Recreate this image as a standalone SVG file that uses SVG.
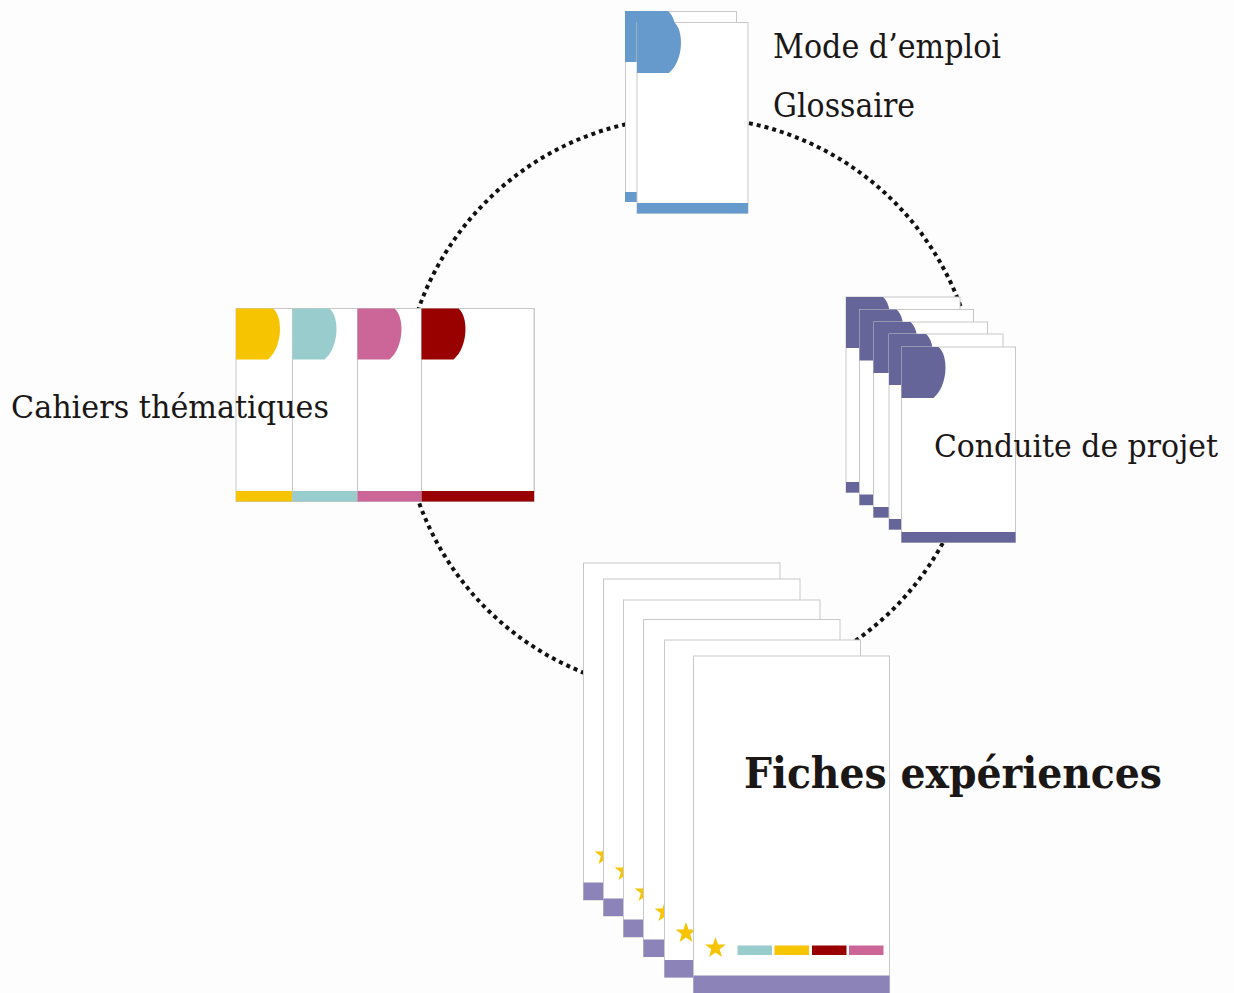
<svg xmlns="http://www.w3.org/2000/svg" xmlns:xlink="http://www.w3.org/1999/xlink" width="1234" height="993" viewBox="0 0 1234 993">
<style>
.pg{fill:#ffffff;stroke:#c8c8c8;stroke-width:1}
.lbl{font-family:"DejaVu Serif","Liberation Serif",serif;fill:#1a1716}
.blue{fill:#6699cc}
.purple{fill:#65659a}
.lav{fill:#8c84b8}
.yel{fill:#f6c400}
.teal{fill:#99cccc}
.pink{fill:#cc6699}
.red{fill:#990000}
</style>
<defs>
<path id="star" d="M0,-11 L2.59,-3.56 L10.46,-3.40 L4.18,1.36 L6.47,8.90 L0,4.4 L-6.47,8.90 L-4.18,1.36 L-10.46,-3.40 L-2.59,-3.56 Z" fill="#f6c400"/>
<path id="tab" d="M0,0 H37 C47,8 47,38 32,51 H0 Z"/>
</defs>
<rect x="0" y="0" width="1234" height="993" fill="#fdfdfd"/>
<g id="connectors">
<circle cx="690" cy="405" r="288" fill="none" stroke="#111" stroke-width="4" stroke-dasharray="4 4"/>
</g>
<g id="node-mode-emploi">
<rect class="pg" x="625.5" y="11.5" width="111" height="190"/>
<path class="blue" d="M625,11 H668 C679,20 679,50 668,62 H625 Z"/>
<rect class="blue" x="625" y="192" width="12" height="10"/>
<rect class="pg" x="637" y="22.5" width="111" height="190.5"/>
<use xlink:href="#tab" class="blue" transform="translate(637,22)"/>
<rect class="blue" x="637" y="203" width="111" height="10.5"/>
<text class="lbl" x="773" y="58" font-size="33" textLength="228" lengthAdjust="spacingAndGlyphs">Mode d’emploi</text>
<text class="lbl" x="773" y="117" font-size="33" textLength="142" lengthAdjust="spacingAndGlyphs">Glossaire</text>
</g>
<g id="node-cahiers">
<rect class="pg" x="236" y="308.5" width="298" height="193"/>
<use xlink:href="#tab" class="yel" transform="translate(236,308.5)"/>
<rect class="yel" x="236" y="491" width="298" height="10.5"/>
<rect class="pg" x="292.5" y="308.5" width="241.5" height="193"/>
<use xlink:href="#tab" class="teal" transform="translate(292.5,308.5)"/>
<rect class="teal" x="292.5" y="491" width="241.5" height="10.5"/>
<rect class="pg" x="357.5" y="308.5" width="176.5" height="193"/>
<use xlink:href="#tab" class="pink" transform="translate(357.5,308.5)"/>
<rect class="pink" x="357.5" y="491" width="176.5" height="10.5"/>
<rect class="pg" x="421.5" y="308.5" width="112.5" height="193"/>
<use xlink:href="#tab" class="red" transform="translate(421.5,308.5)"/>
<rect class="red" x="421.5" y="491" width="112.5" height="10.5"/>
<text class="lbl" x="11" y="418" font-size="32" textLength="318" lengthAdjust="spacingAndGlyphs">Cahiers thématiques</text>
</g>
<g id="node-conduite">
<rect class="pg" x="846" y="297" width="114" height="195.5"/>
<use xlink:href="#tab" class="purple" transform="translate(846,297)"/>
<rect class="purple" x="846" y="482" width="114" height="10.5"/>
<rect class="pg" x="859.5" y="309.5" width="114" height="195.5"/>
<use xlink:href="#tab" class="purple" transform="translate(859.5,309.5)"/>
<rect class="purple" x="859.5" y="494.5" width="114" height="10.5"/>
<rect class="pg" x="873.5" y="322" width="114" height="195.5"/>
<use xlink:href="#tab" class="purple" transform="translate(873.5,322)"/>
<rect class="purple" x="873.5" y="507" width="114" height="10.5"/>
<rect class="pg" x="889" y="334" width="114" height="195.5"/>
<use xlink:href="#tab" class="purple" transform="translate(889,334)"/>
<rect class="purple" x="889" y="519" width="114" height="10.5"/>
<rect class="pg" x="901.5" y="347" width="114" height="195.5"/>
<use xlink:href="#tab" class="purple" transform="translate(901.5,347)"/>
<rect class="purple" x="901.5" y="532" width="114" height="10.5"/>
<text class="lbl" x="934" y="457" font-size="32" textLength="284" lengthAdjust="spacingAndGlyphs">Conduite de projet</text>
</g>
<g id="node-fiches">
<rect class="pg" x="583.5" y="563" width="196.5" height="337"/>
<use xlink:href="#star" transform="translate(605,855)"/>
<rect class="lav" x="583.5" y="882.5" width="196.5" height="17.5"/>
<rect class="pg" x="603.5" y="579" width="196.5" height="337"/>
<use xlink:href="#star" transform="translate(625,871)"/>
<rect class="lav" x="603.5" y="898.5" width="196.5" height="17.5"/>
<rect class="pg" x="623.5" y="600" width="196.5" height="337"/>
<use xlink:href="#star" transform="translate(645,892)"/>
<rect class="lav" x="623.5" y="919.5" width="196.5" height="17.5"/>
<rect class="pg" x="643.5" y="619.5" width="196.5" height="337"/>
<use xlink:href="#star" transform="translate(665,912)"/>
<rect class="lav" x="643.5" y="939.5" width="196.5" height="17.5"/>
<rect class="pg" x="664.5" y="640" width="196" height="337"/>
<use xlink:href="#star" transform="translate(686,933)"/>
<rect class="lav" x="664.5" y="960" width="196" height="17.5"/>
<rect class="pg" x="693.5" y="656" width="196" height="340"/>
<use xlink:href="#star" transform="translate(715.5,948)"/>
<rect class="teal" x="737.5" y="945.5" width="34.5" height="9.5"/>
<rect class="yel" x="774.5" y="945.5" width="34.5" height="9.5"/>
<rect class="red" x="812" y="945.5" width="34.5" height="9.5"/>
<rect class="pink" x="849" y="945.5" width="34.5" height="9.5"/>
<rect class="lav" x="693.5" y="975.5" width="196" height="18"/>
<text class="lbl" x="744" y="788" font-size="42" font-weight="bold" textLength="418" lengthAdjust="spacingAndGlyphs">Fiches expériences</text>
</g>
</svg>
